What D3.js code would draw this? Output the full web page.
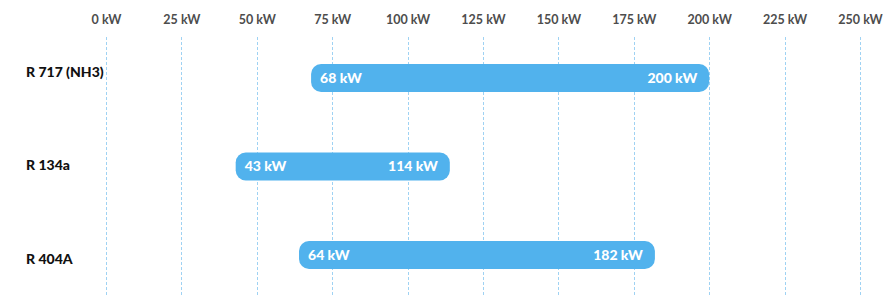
<!DOCTYPE html>
<html>
<head>
<meta charset="utf-8">
<script src="https://cdn.jsdelivr.net/npm/d3@7"></script>
<style>
  html, body { margin: 0; padding: 0; background: #fff; }
  svg { display: block; }
</style>
</head>
<body>
<div id="chart"></div>
<script>
const categories = ["R 717 (NH3)", "R 134a", "R 404A"];
const minValues = [68, 43, 64];
const maxValues = [200, 114, 182];
const tickValues = [0, 25, 50, 75, 100, 125, 150, 175, 200, 225, 250];
const unit = "kW";

const W = 883, H = 308;
const svg = d3.select("#chart").append("svg").attr("width", W).attr("height", H);

const x = d3.scaleLinear().domain([0, 250]).range([106, 860]);
const yBar = d3.scalePoint().domain(categories).range([78, 255]);
const yLabel = d3.scalePoint().domain(categories).range([72, 259]);
const barH = 28;
const fmt = v => `${v} ${unit}`;

// grid lines
svg.append("g").selectAll("line").data(tickValues).join("line")
  .attr("x1", d => Math.round(x(d)) + 0.5).attr("x2", d => Math.round(x(d)) + 0.5)
  .attr("y1", 37).attr("y2", 297)
  .attr("stroke", "#9fd2f3").attr("stroke-width", 1)
  .attr("stroke-dasharray", "3,2");

// top axis labels
const axis = d3.axisTop(x).tickValues(tickValues).tickSize(0).tickFormat(fmt);
const ag = svg.append("g").attr("transform", "translate(0,20)").call(axis);
ag.select(".domain").remove();
ag.selectAll("text")
  .attr("dy", "0.35em").attr("y", 0)
  .attr("fill", "#4d4d4d")
  .style("font-family", "Lato, 'Open Sans', sans-serif")
  .style("font-weight", "700")
  .style("font-size", "12.5px");

// category labels
svg.append("g").selectAll("text").data(categories).join("text")
  .attr("x", 26).attr("y", d => yLabel(d)).attr("dy", "0.35em")
  .attr("fill", "#111")
  .style("font-family", "Lato, 'Noto Sans', sans-serif")
  .style("font-weight", "900")
  .style("font-size", "14px")
  .text(d => d);

// bars
const rows = categories.map((c, i) => ({ c, lo: minValues[i], hi: maxValues[i] }));
const bg = svg.append("g");
bg.selectAll("rect").data(rows).join("rect")
  .attr("x", d => x(d.lo)).attr("width", d => x(d.hi) - x(d.lo))
  .attr("y", d => yBar(d.c) - barH / 2).attr("height", barH)
  .attr("rx", 10).attr("ry", 10)
  .attr("fill", "#51b2ed");

const labelStyle = sel => sel
  .attr("fill", "#fff")
  .style("font-family", "Lato, 'Open Sans', sans-serif")
  .style("font-weight", "900")
  .style("font-size", "14px");

bg.selectAll("text.lo").data(rows).join("text").attr("class", "lo")
  .attr("x", d => x(d.lo) + 9).attr("y", d => yBar(d.c)).attr("dy", "0.35em")
  .call(labelStyle).text(d => fmt(d.lo));

bg.selectAll("text.hi").data(rows).join("text").attr("class", "hi")
  .attr("x", d => x(d.hi) - 12).attr("y", d => yBar(d.c)).attr("dy", "0.35em")
  .attr("text-anchor", "end")
  .call(labelStyle).text(d => fmt(d.hi));
</script>
</body>
</html>
